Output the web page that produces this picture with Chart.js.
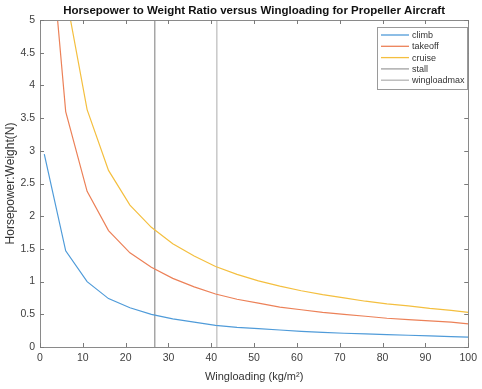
<!DOCTYPE html>
<html><head><meta charset="utf-8">
<script src="https://cdn.jsdelivr.net/npm/chart.js@4/dist/chart.umd.min.js"></script>
<style>html,body{margin:0;padding:0;background:#fff}#wrap{width:482px;height:389px;position:relative}</style>
</head><body><div id="wrap"><canvas id="c" width="482" height="389"></canvas></div>
<script>
const titleText = 'Horsepower to Weight Ratio versus Wingloading for Propeller Aircraft';
const xTitle = 'Wingloading (kg/m\u00B2)';
const yTitle = 'Horsepower:Weight(N)';
const wingloading = [1,6,11,16,21,26,31,36,41,46,51,56,61,66,71,76,81,86,91,96,100];
const climb   = [2.95,1.47,1.00,0.74,0.60,0.50,0.43,0.38,0.33,0.30,0.28,0.26,0.24,0.225,0.21,0.20,0.19,0.18,0.17,0.16,0.15];
const takeoff = [7.3,3.60,2.38,1.78,1.44,1.22,1.05,0.92,0.81,0.73,0.67,0.61,0.57,0.53,0.50,0.47,0.44,0.42,0.40,0.38,0.355];
const cruise  = [10.8,5.4,3.63,2.70,2.17,1.83,1.58,1.39,1.23,1.11,1.01,0.93,0.86,0.80,0.75,0.70,0.66,0.63,0.59,0.56,0.53];
const stallX = 26.8;
const wingloadMaxX = 41.3;
const seriesNames = ['climb','takeoff','cruise','stall','wingloadmax'];
const colors = ['#4f9bd9','#ec8158','#f4bf3f','#a0a0a0','#b4b4b4'];

const pts = ys => wingloading.map((x,i)=>({x:x,y:ys[i]}));
const vline = x => [{x:x,y:0},{x:x,y:5}];

const dataSets = [pts(climb), pts(takeoff), pts(cruise), vline(stallX), vline(wingloadMaxX)];
const widths = [1.2,1.2,1.2,1.4,1.1];
const FONT = '"Liberation Sans", Arial, sans-serif';

const decor = {
  id:'decor',
  afterDraw(chart){
    const ctx = chart.ctx, a = chart.chartArea;
    const xs = chart.scales.x, ys = chart.scales.y;
    ctx.save();
    ctx.strokeStyle = '#8a8a8a'; ctx.lineWidth = 1;
    ctx.strokeRect(Math.round(a.left)+0.5, Math.round(a.top)+0.5, Math.round(a.right-a.left), Math.round(a.bottom-a.top));
    ctx.strokeStyle = '#7a7a7a';
    ctx.beginPath();
    xs.ticks.forEach(t=>{
      const p = Math.round(xs.getPixelForValue(t.value))+0.5;
      ctx.moveTo(p,a.bottom); ctx.lineTo(p,a.bottom-4);
      ctx.moveTo(p,a.top); ctx.lineTo(p,a.top+4);
    });
    ys.ticks.forEach(t=>{
      const p = Math.round(ys.getPixelForValue(t.value))+0.5;
      ctx.moveTo(a.left,p); ctx.lineTo(a.left+4,p);
      ctx.moveTo(a.right,p); ctx.lineTo(a.right-4,p);
    });
    ctx.stroke();
    ctx.fillStyle = '#111';
    ctx.font = 'bold 11.5px ' + FONT;
    ctx.textAlign = 'center'; ctx.textBaseline = 'middle';
    ctx.fillText(titleText, (a.left+a.right)/2, 11);
    const lx = 377, ly = 27, lw = 90, lh = 62;
    ctx.fillStyle = '#fff';
    ctx.fillRect(lx, ly, lw, lh);
    ctx.strokeStyle = '#9a9a9a';
    ctx.strokeRect(lx+0.5, ly+0.5, lw, lh);
    ctx.font = '9px ' + FONT;
    ctx.textAlign = 'left';
    chart.data.datasets.forEach((d,i)=>{
      const y = 35 + i*11.3;
      ctx.strokeStyle = d.borderColor; ctx.lineWidth = 1.3;
      ctx.beginPath(); ctx.moveTo(381, y); ctx.lineTo(409, y); ctx.stroke();
      ctx.fillStyle = '#333';
      ctx.fillText(d.label, 412, y+0.5);
    });
    ctx.restore();
  }
};

new Chart(document.getElementById('c'), {
  type:'scatter',
  data:{ datasets: dataSets.map((d,i)=>({
    label: seriesNames[i], data: d, showLine:true, borderColor: colors[i], backgroundColor: colors[i],
    borderWidth: widths[i], pointRadius:0, tension:0, fill:false
  }))},
  options:{
    responsive:false, animation:false, devicePixelRatio:1,
    layout:{padding:{top:20,right:6,left:0,bottom:0}},
    plugins:{legend:{display:false}, title:{display:false}, tooltip:{enabled:false}},
    scales:{
      x:{type:'linear', min:0, max:100,
        ticks:{stepSize:10, color:'#404040', padding:5, font:{size:10.5, family:FONT}, maxRotation:0},
        grid:{display:false, drawTicks:false}, border:{display:false},
        title:{display:true, text:xTitle, color:'#333', font:{size:11, family:FONT}, padding:{top:0,bottom:5}},
        afterFit(s){ s.height = 42; }
      },
      y:{type:'linear', min:0, max:5,
        ticks:{stepSize:0.5, color:'#404040', padding:5, font:{size:10.5, family:FONT},
          callback: v => String(Math.round(v*10)/10)},
        grid:{display:false, drawTicks:false}, border:{display:false},
        title:{display:true, text:yTitle, color:'#333', font:{size:12, family:FONT}, padding:{top:3,bottom:0}},
        afterFit(s){ s.width = 40; }
      }
    }
  },
  plugins:[decor]
});
</script></body></html>
